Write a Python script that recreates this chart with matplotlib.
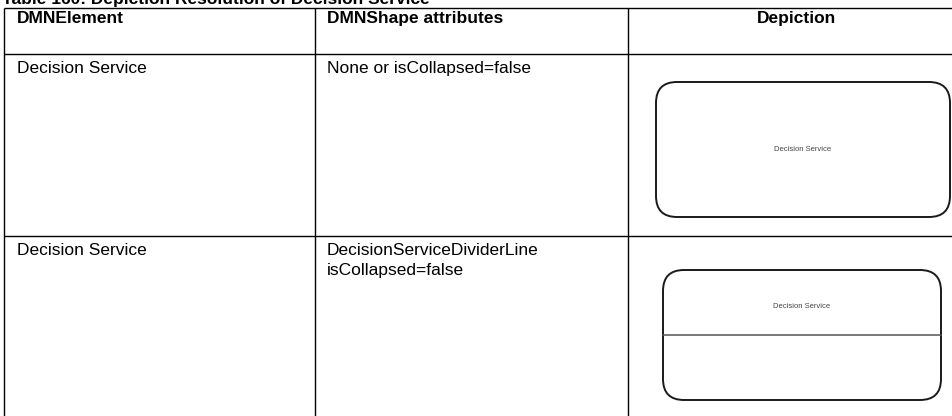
import matplotlib
matplotlib.use("Agg")
import matplotlib.pyplot as plt
from matplotlib.patches import FancyBboxPatch

plt.rcParams['font.family'] = ['Liberation Sans', 'DejaVu Sans']

title = "Table 160: Depiction Resolution of Decision Service"
headers = ["DMNElement", "DMNShape attributes", "Depiction"]
elements = ["Decision Service", "Decision Service"]
attributes = ["None or isCollapsed=false", "DecisionServiceDividerLine\nisCollapsed=false"]
shape_labels = ["Decision Service", "Decision Service"]
has_divider = [False, True]

W, H = 953, 416
fig = plt.figure(figsize=(W / 100, H / 100), dpi=100)
ax = fig.add_axes([0, 0, 1, 1])
ax.set_xlim(0, W)
ax.set_ylim(H, 0)
ax.axis('off')

col_x = [4, 315, 628, 966]
row_y = [8, 54, 236, 420]

FS = 12.5
lw = 1.0
for y in row_y:
    ax.plot([col_x[0], col_x[-1]], [y, y], color='black', lw=lw, solid_capstyle='butt')
for x in col_x:
    ax.plot([x, x], [row_y[0], row_y[-1]], color='black', lw=lw, solid_capstyle='butt')

ax.text(2, 4, title, fontsize=FS, fontweight='bold', va='baseline', ha='left')

# headers
ax.text(col_x[0] + 13, 23, headers[0], fontsize=FS, fontweight='bold', va='baseline')
ax.text(col_x[1] + 12, 23, headers[1], fontsize=FS, fontweight='bold', va='baseline')
ax.text((col_x[2] + col_x[3]) / 2, 23, headers[2], fontsize=FS, fontweight='bold',
        va='baseline', ha='center')

# rows
for i in range(2):
    top = row_y[i + 1]
    ax.text(col_x[0] + 13, top + 19, elements[i], fontsize=FS, va='baseline')
    for k, line in enumerate(attributes[i].split("\n")):
        ax.text(col_x[1] + 12, top + 19 + 20 * k, line, fontsize=FS, va='baseline')

# shapes
boxes = [(656, 82, 294, 135), (663, 270, 278, 130)]
for (x0, y0, w, h), lab, div in zip(boxes, shape_labels, has_divider):
    p = FancyBboxPatch((x0, y0), w, h, boxstyle="round,pad=0,rounding_size=21",
                       fc='white', ec='#1a1a1a', lw=1.4)
    ax.add_patch(p)
    if div:
        dy = y0 + h * 0.5
        ax.plot([x0, x0 + w], [dy, dy], color='#555555', lw=1.1)
        ax.text(x0 + w / 2, y0 + h * 0.28, lab, fontsize=5.5, color='#444444',
                ha='center', va='center')
    else:
        ax.text(x0 + w / 2, y0 + h / 2, lab, fontsize=5.5, color='#444444',
                ha='center', va='center')

fig.savefig("out.png", dpi=100)
